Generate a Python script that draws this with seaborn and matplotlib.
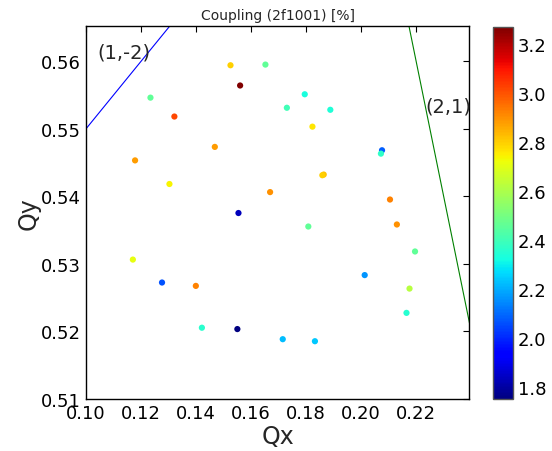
import numpy as np
import pandas as pd
import matplotlib
matplotlib.use("Agg")
import matplotlib.pyplot as plt
import seaborn as sns

qx = [0.1525, 0.1652, 0.1560, 0.1234, 0.1321, 0.1468, 0.1178, 0.1303, 0.1669,
      0.1795, 0.1730, 0.1888, 0.1823, 0.2076, 0.2072, 0.1864, 0.1859,
      0.2105, 0.2130, 0.1808, 0.2196, 0.2013, 0.2176, 0.2165, 0.1715, 0.1832,
      0.1554, 0.1170, 0.1276, 0.1399, 0.1421, 0.1550]
qy = [0.5594, 0.5595, 0.5564, 0.5546, 0.5518, 0.5473, 0.5453, 0.5418, 0.5406,
      0.5551, 0.5531, 0.5528, 0.5503, 0.5468, 0.5463, 0.5432, 0.5431,
      0.5395, 0.5358, 0.5355, 0.5318, 0.5283, 0.5263, 0.5227, 0.5188, 0.5185,
      0.5375, 0.5306, 0.5272, 0.5267, 0.5205, 0.5203]
coupling = [2.80, 2.46, 3.27, 2.46, 3.02, 2.88, 2.88, 2.74, 2.90,
            2.33, 2.40, 2.34, 2.76, 2.08, 2.37, 2.82, 2.80,
            2.92, 2.90, 2.46, 2.46, 2.16, 2.62, 2.35, 2.22, 2.24,
            1.83, 2.71, 2.06, 2.92, 2.36, 1.75]

vmin, vmax = 1.75, 3.27

sns.set_style("white")
plt.rcParams.update({
    "font.family": ["DejaVu Sans"],
    "xtick.direction": "in", "ytick.direction": "in",
    "xtick.top": True, "ytick.right": True,
    "xtick.major.size": 4, "ytick.major.size": 4,
    "xtick.color": "black", "ytick.color": "black",
    "axes.edgecolor": "black", "axes.linewidth": 1.0,
})

jet = matplotlib.colormaps["jet"]
df = pd.DataFrame({"Qx": qx, "Qy": qy, "c": coupling})

fig = plt.figure(figsize=(5.52, 4.52), dpi=100)
ax = fig.add_axes([0.156, 0.116, 0.694, 0.824])
cax = fig.add_axes([0.893, 0.115, 0.036, 0.823])

sns.scatterplot(data=df, x="Qx", y="Qy", hue="c", palette=jet,
                hue_norm=(vmin, vmax), legend=False, s=20, linewidth=0, ax=ax)

xs = np.linspace(0.10, 0.24, 50)
ax.plot(xs, (xs + 1) / 2, color="blue", lw=0.8)
ax.plot(xs, 1 - 2 * xs, color="green", lw=0.8)
ax.text(0.104, 0.5613, "(1,-2)", fontsize=14, va="center", ha="left")
ax.text(0.2235, 0.5533, "(2,1)", fontsize=14, va="center", ha="left")

ax.set_xlim(0.10, 0.2393)
ax.set_ylim(0.51, 0.5652)
ax.set_xticks([0.10, 0.12, 0.14, 0.16, 0.18, 0.20, 0.22])
ax.set_yticks([0.51, 0.52, 0.53, 0.54, 0.55, 0.56])
ax.set_xticklabels(["0.10", "0.12", "0.14", "0.16", "0.18", "0.20", "0.22"])
ax.set_yticklabels(["0.51", "0.52", "0.53", "0.54", "0.55", "0.56"])
ax.tick_params(labelsize=13, pad=4)
ax.set_xlabel("Qx", fontsize=17, labelpad=1)
ax.set_ylabel("Qy", fontsize=17, labelpad=0)
ax.set_title("Coupling (2f1001) [%]", fontsize=10, pad=5)

sm = plt.cm.ScalarMappable(cmap=jet, norm=plt.Normalize(vmin, vmax))
cb = fig.colorbar(sm, cax=cax)
cb.set_ticks([1.8, 2.0, 2.2, 2.4, 2.6, 2.8, 3.0, 3.2])
cb.ax.tick_params(labelsize=13, direction="in", length=4)
cb.outline.set_edgecolor("#555555")

fig.savefig("out.png", dpi=100)
